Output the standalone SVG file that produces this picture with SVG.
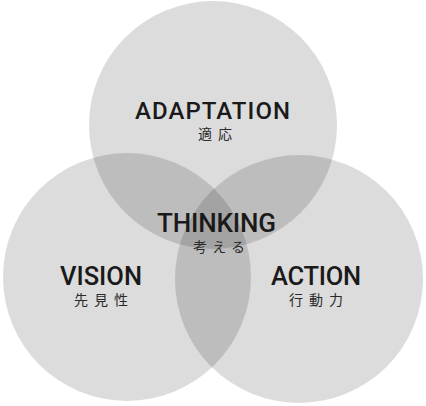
<svg xmlns="http://www.w3.org/2000/svg" width="426" height="406" viewBox="0 0 426 406">
<style>
.c{fill:#000;fill-opacity:0.137}
.en{font-family:Roboto,"Noto Sans",sans-serif;font-weight:500;fill:#1a1a1a}
.jp{font-family:"Noto Sans CJK JP",sans-serif;font-size:14px;fill:#2a2a2a}
</style>
<rect width="426" height="406" fill="#fff"/>
<g id="adaptation">
<circle class="c" cx="213" cy="125" r="124"/>
<text class="en" x="135" y="118.5" font-size="24" textLength="155" lengthAdjust="spacing">ADAPTATION</text>
<text class="jp" x="198" y="139" textLength="34" lengthAdjust="spacing">適応</text>
</g>
<g id="vision">
<circle class="c" cx="127" cy="277" r="124"/>
<text class="en" x="60" y="285" font-size="25.5" textLength="82" lengthAdjust="spacing">VISION</text>
<text class="jp" x="74" y="305" textLength="54" lengthAdjust="spacing">先見性</text>
</g>
<g id="action">
<circle class="c" cx="299" cy="279" r="124"/>
<text class="en" x="271" y="285" font-size="25.5" textLength="90" lengthAdjust="spacing">ACTION</text>
<text class="jp" x="289" y="305" textLength="54" lengthAdjust="spacing">行動力</text>
</g>
<g id="thinking">
<text class="en" x="157" y="232" font-size="26" textLength="119" lengthAdjust="spacing">THINKING</text>
<text class="jp" x="193" y="251.5" textLength="52" lengthAdjust="spacing">考える</text>
</g>
<g id="connectors"/>
</svg>
